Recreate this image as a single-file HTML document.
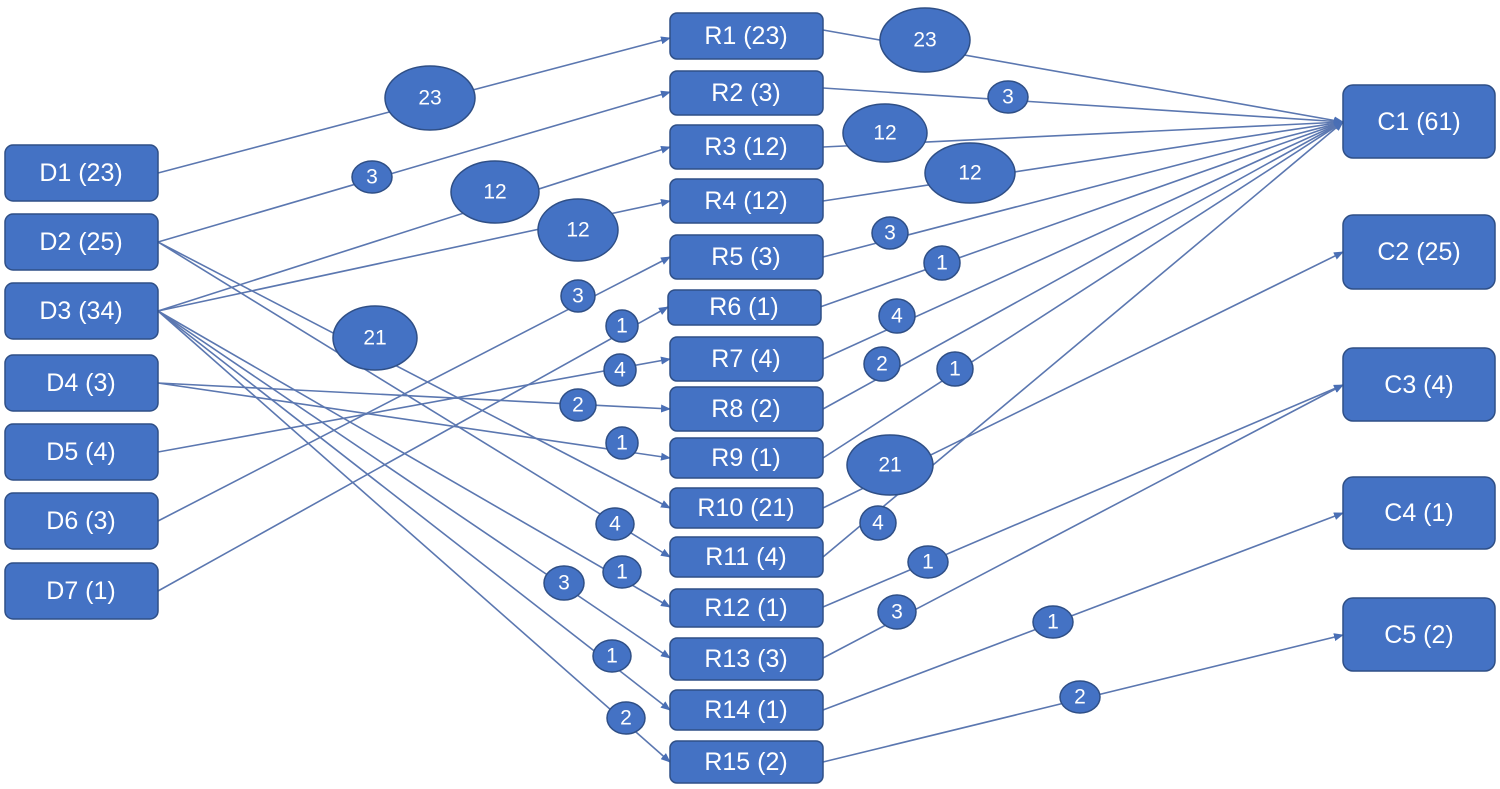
<!DOCTYPE html>
<html><head><meta charset="utf-8"><style>
html,body{margin:0;padding:0;background:#fff;}
svg{display:block;}
text{font-family:"Liberation Sans",sans-serif;fill:#fff;text-anchor:middle;dominant-baseline:central;}
</style></head><body>
<svg width="1500" height="789" viewBox="0 0 1500 789" xmlns="http://www.w3.org/2000/svg">
<defs><marker id="a" markerWidth="10" markerHeight="8" refX="9" refY="4" orient="auto" markerUnits="userSpaceOnUse"><path d="M0,0 L10,4 L0,8 z" fill="#4a6fb5"/></marker></defs>
<g stroke="#5b77b0" stroke-width="1.6" fill="none" marker-end="url(#a)">
<line x1="158" y1="173" x2="670" y2="38"/>
<line x1="158" y1="242" x2="670" y2="92"/>
<line x1="158" y1="311" x2="670" y2="147"/>
<line x1="158" y1="311" x2="670" y2="201"/>
<line x1="158" y1="521" x2="670" y2="257"/>
<line x1="158" y1="591" x2="668" y2="307"/>
<line x1="158" y1="452" x2="670" y2="359"/>
<line x1="158" y1="383" x2="670" y2="409"/>
<line x1="158" y1="383" x2="670" y2="458"/>
<line x1="158" y1="242" x2="670" y2="508"/>
<line x1="158" y1="242" x2="670" y2="557"/>
<line x1="158" y1="311" x2="670" y2="607"/>
<line x1="158" y1="311" x2="670" y2="658"/>
<line x1="158" y1="311" x2="670" y2="710"/>
<line x1="158" y1="311" x2="670" y2="762"/>
<line x1="823" y1="30" x2="1343" y2="122"/>
<line x1="823" y1="88" x2="1343" y2="122"/>
<line x1="823" y1="147" x2="1343" y2="122"/>
<line x1="823" y1="201" x2="1343" y2="122"/>
<line x1="823" y1="257" x2="1343" y2="122"/>
<line x1="820" y1="307" x2="1343" y2="122"/>
<line x1="823" y1="359" x2="1343" y2="122"/>
<line x1="823" y1="409" x2="1343" y2="122"/>
<line x1="823" y1="458" x2="1343" y2="122"/>
<line x1="823" y1="508" x2="1343" y2="252"/>
<line x1="823" y1="557" x2="1343" y2="122"/>
<line x1="823" y1="607" x2="1343" y2="385"/>
<line x1="823" y1="658" x2="1343" y2="385"/>
<line x1="823" y1="710" x2="1343" y2="513"/>
<line x1="823" y1="762" x2="1343" y2="635"/>
</g>
<g fill="#4472c4" stroke="#2f4f86" stroke-width="1.5">
<rect x="5" y="145" width="153" height="56" rx="8"/>
<rect x="5" y="214" width="153" height="56" rx="8"/>
<rect x="5" y="283" width="153" height="56" rx="8"/>
<rect x="5" y="355" width="153" height="56" rx="8"/>
<rect x="5" y="424" width="153" height="56" rx="8"/>
<rect x="5" y="493" width="153" height="56" rx="8"/>
<rect x="5" y="563" width="153" height="56" rx="8"/>
<rect x="670" y="13" width="153" height="46" rx="7"/>
<rect x="670" y="71" width="153" height="44" rx="7"/>
<rect x="670" y="125" width="153" height="44" rx="7"/>
<rect x="670" y="179" width="153" height="44" rx="7"/>
<rect x="670" y="235" width="153" height="44" rx="7"/>
<rect x="668" y="290" width="153" height="35" rx="7"/>
<rect x="670" y="337" width="153" height="44" rx="7"/>
<rect x="670" y="387" width="153" height="44" rx="7"/>
<rect x="670" y="438" width="153" height="40" rx="7"/>
<rect x="670" y="488" width="153" height="40" rx="7"/>
<rect x="670" y="537" width="153" height="40" rx="7"/>
<rect x="670" y="589" width="153" height="38" rx="7"/>
<rect x="670" y="638" width="153" height="42" rx="7"/>
<rect x="670" y="690" width="153" height="40" rx="7"/>
<rect x="670" y="741" width="153" height="42" rx="7"/>
<rect x="1343" y="85" width="152" height="73" rx="10"/>
<rect x="1343" y="215" width="152" height="74" rx="10"/>
<rect x="1343" y="348" width="152" height="73" rx="10"/>
<rect x="1343" y="477" width="152" height="72" rx="10"/>
<rect x="1343" y="598" width="152" height="73" rx="10"/>
<ellipse cx="430" cy="98" rx="45" ry="32"/>
<ellipse cx="372" cy="177" rx="20" ry="16"/>
<ellipse cx="495" cy="192" rx="44" ry="31"/>
<ellipse cx="578" cy="230" rx="40" ry="31"/>
<ellipse cx="578" cy="296" rx="17" ry="16"/>
<ellipse cx="622" cy="326" rx="16" ry="16"/>
<ellipse cx="620" cy="370" rx="16" ry="16"/>
<ellipse cx="578" cy="405" rx="18" ry="16"/>
<ellipse cx="622" cy="443" rx="16" ry="16"/>
<ellipse cx="375" cy="338" rx="42" ry="32"/>
<ellipse cx="615" cy="524" rx="19" ry="16"/>
<ellipse cx="622" cy="572" rx="19" ry="16"/>
<ellipse cx="564" cy="583" rx="20" ry="17"/>
<ellipse cx="612" cy="656" rx="19" ry="16"/>
<ellipse cx="626" cy="718" rx="19" ry="16"/>
<ellipse cx="925" cy="40" rx="45" ry="32"/>
<ellipse cx="1008" cy="97" rx="20" ry="16"/>
<ellipse cx="885" cy="133" rx="42" ry="29"/>
<ellipse cx="970" cy="173" rx="45" ry="30"/>
<ellipse cx="890" cy="233" rx="18" ry="16"/>
<ellipse cx="942" cy="263" rx="18" ry="17"/>
<ellipse cx="897" cy="316" rx="18" ry="17"/>
<ellipse cx="882" cy="364" rx="18" ry="17"/>
<ellipse cx="955" cy="369" rx="18" ry="17"/>
<ellipse cx="890" cy="465" rx="43" ry="30"/>
<ellipse cx="878" cy="523" rx="18" ry="17"/>
<ellipse cx="928" cy="562" rx="20" ry="16"/>
<ellipse cx="897" cy="612" rx="19" ry="17"/>
<ellipse cx="1053" cy="622" rx="20" ry="16"/>
<ellipse cx="1080" cy="697" rx="20" ry="16"/>
</g>
<g font-size="25">
<text x="81" y="173">D1 (23)</text>
<text x="81" y="242">D2 (25)</text>
<text x="81" y="311">D3 (34)</text>
<text x="81" y="383">D4 (3)</text>
<text x="81" y="452">D5 (4)</text>
<text x="81" y="521">D6 (3)</text>
<text x="81" y="591">D7 (1)</text>
<text x="746" y="36">R1 (23)</text>
<text x="746" y="93">R2 (3)</text>
<text x="746" y="147">R3 (12)</text>
<text x="746" y="201">R4 (12)</text>
<text x="746" y="257">R5 (3)</text>
<text x="744" y="307">R6 (1)</text>
<text x="746" y="359">R7 (4)</text>
<text x="746" y="409">R8 (2)</text>
<text x="746" y="458">R9 (1)</text>
<text x="746" y="508">R10 (21)</text>
<text x="746" y="557">R11 (4)</text>
<text x="746" y="608">R12 (1)</text>
<text x="746" y="659">R13 (3)</text>
<text x="746" y="710">R14 (1)</text>
<text x="746" y="762">R15 (2)</text>
<text x="1419" y="122">C1 (61)</text>
<text x="1419" y="252">C2 (25)</text>
<text x="1419" y="385">C3 (4)</text>
<text x="1419" y="513">C4 (1)</text>
<text x="1419" y="635">C5 (2)</text>
</g>
<g font-size="21">
<text x="430" y="98">23</text>
<text x="372" y="177">3</text>
<text x="495" y="192">12</text>
<text x="578" y="230">12</text>
<text x="578" y="296">3</text>
<text x="622" y="326">1</text>
<text x="620" y="370">4</text>
<text x="578" y="405">2</text>
<text x="622" y="443">1</text>
<text x="375" y="338">21</text>
<text x="615" y="524">4</text>
<text x="622" y="572">1</text>
<text x="564" y="583">3</text>
<text x="612" y="656">1</text>
<text x="626" y="718">2</text>
<text x="925" y="40">23</text>
<text x="1008" y="97">3</text>
<text x="885" y="133">12</text>
<text x="970" y="173">12</text>
<text x="890" y="233">3</text>
<text x="942" y="263">1</text>
<text x="897" y="316">4</text>
<text x="882" y="364">2</text>
<text x="955" y="369">1</text>
<text x="890" y="465">21</text>
<text x="878" y="523">4</text>
<text x="928" y="562">1</text>
<text x="897" y="612">3</text>
<text x="1053" y="622">1</text>
<text x="1080" y="697">2</text>
</g>
</svg>
</body></html>
